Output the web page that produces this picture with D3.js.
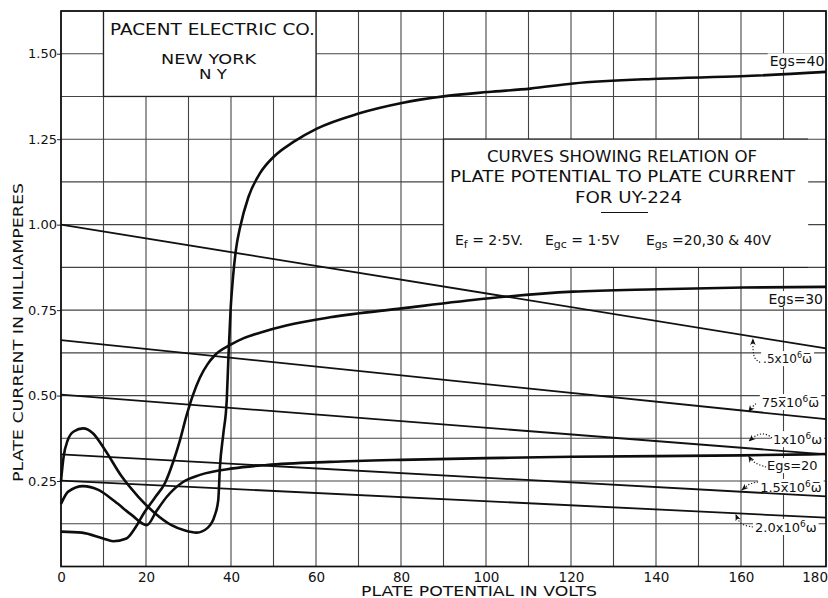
<!DOCTYPE html>
<html>
<head>
<meta charset="utf-8">
<script src="https://cdn.jsdelivr.net/npm/d3@7"></script>
<style>
  body { margin: 0; background: #fff; }
  svg { display: block; }
  text { font-family: "DejaVu Sans", sans-serif; fill: #111; }
</style>
</head>
<body>
<div id="chart"></div>
<script>
// values: [plate volts, plate milliamperes]
const egs20 = [[0,0.183],[1.7,0.219],[5.2,0.235],[8.8,0.224],[12.7,0.19],[16.6,0.151],[20.2,0.121],
  [22.5,0.163],[24.9,0.204],[28.8,0.248],[32.7,0.268],[40.5,0.287],[48.4,0.297],[63.3,0.306],
  [80,0.312],[100,0.317],[120,0.321],[140,0.323],[160,0.325],[180,0.329]];
const egs30 = [[0,0.102],[4.9,0.099],[9.9,0.082],[12.3,0.074],[15.4,0.082],[17.4,0.112],[19.6,0.158],
  [22,0.2],[24.5,0.245],[26.5,0.31],[28,0.37],[29.5,0.44],[31,0.5],[32.7,0.553],[34.5,0.592],
  [36.2,0.618],[39.8,0.648],[43,0.668],[46.8,0.684],[53,0.705],[63.3,0.729],[80.2,0.755],
  [100.2,0.784],[120.5,0.804],[140.5,0.811],[160.5,0.816],[180,0.818]];
const egs40 = [[0,0.25],[0.6,0.32],[1.6,0.37],[3,0.395],[5.2,0.404],[7.5,0.39],[10.4,0.34],
  [14.3,0.263],[18.2,0.204],[22.1,0.156],[26,0.121],[29.2,0.105],[31.9,0.099],[34.5,0.113],
  [36.2,0.15],[37,0.194],[37.4,0.292],[38.2,0.389],[39,0.487],[39.4,0.613],[39.9,0.75],
  [40.5,0.85],[41.2,0.93],[42.1,0.99],[44.1,1.081],[46.8,1.15],[50,1.198],[54.7,1.242],
  [60.2,1.281],[70,1.325],[80.2,1.356],[90.4,1.376],[100.5,1.388],[110.4,1.398],[120.5,1.413],
  [140.5,1.427],[160,1.434],[180,1.447]];

// load lines (megohms): current at 0 V and at 180 V
const loadNames = [".5", "75", "1", "1.5", "2.0"];
const loadAt0 = [1.0, 0.662, 0.503, 0.328, 0.251];
const loadAt180 = [0.638, 0.431, 0.328, 0.205, 0.143];

const xTickLabels = [0, 20, 40, 60, 80, 100, 120, 140, 160, 180];
const yTickLabels = [0.25, 0.5, 0.75, 1.0, 1.25, 1.5];
const gridVolts = [0,10,20,30,40,50,60,70,80,90,100,110,120,130,140,150,160,170,180];
const gridAmps = [0,0.125,0.25,0.375,0.5,0.625,0.75,0.875,1.0,1.125,1.25,1.375,1.5,1.625];

const margin = {top: 11, right: 2, bottom: 31.5, left: 61};
const width = 828 - margin.left - margin.right;
const height = 598 - margin.top - margin.bottom;

const x = d3.scaleLinear().domain([0, 180]).range([0, width]);
const y = d3.scaleLinear().domain([0, 1.625]).range([height, 0]);

const svg = d3.select("#chart").append("svg")
  .attr("width", 828).attr("height", 598);
svg.append("defs").append("marker")
  .attr("id", "head").attr("viewBox", "0 0 10 10")
  .attr("refX", 9).attr("refY", 5)
  .attr("markerWidth", 7).attr("markerHeight", 7)
  .attr("markerUnits", "userSpaceOnUse")
  .attr("orient", "auto")
  .append("path").attr("d", "M0,1 L10,5 L0,9 L3,5 Z").attr("fill", "#111");

const g = svg.append("g").attr("transform", `translate(${margin.left},${margin.top})`);

// grid
const grid = g.append("g").attr("stroke", "#444").attr("stroke-width", 1.1);
grid.selectAll("line.v").data(gridVolts).join("line").attr("class", "v")
  .attr("x1", d => x(d)).attr("x2", d => x(d)).attr("y1", 0).attr("y2", height);
grid.selectAll("line.h").data(gridAmps).join("line").attr("class", "h")
  .attr("x1", 0).attr("x2", width).attr("y1", d => y(d)).attr("y2", d => y(d));

// title boxes sit over the grid
const boxes = g.append("g");
boxes.append("rect")
  .attr("x", x(10)).attr("y", y(1.625))
  .attr("width", x(60) - x(10)).attr("height", y(1.375) - y(1.625))
  .attr("fill", "#fff").attr("stroke", "#222").attr("stroke-width", 1.3);
boxes.append("rect")
  .attr("x", x(90)).attr("y", y(1.25))
  .attr("width", x(175.8) - x(90)).attr("height", y(0.875) - y(1.25))
  .attr("fill", "#fff");
boxes.append("path")
  .attr("d", `M${x(175.8)},${y(1.25)} H${x(90)} V${y(0.875)} H${x(175.8)}`)
  .attr("fill", "none").attr("stroke", "#222").attr("stroke-width", 1.3);

const labelBg = g.append("g");

// axes
const yAxis = d3.axisLeft(y).tickValues(yTickLabels).tickFormat(d3.format(".2f"))
  .tickSize(4).tickPadding(0);
g.append("g").call(yAxis)
  .call(s => s.select(".domain").remove())
  .call(s => s.selectAll("text").style("font-size", "13px").attr("fill", "#111"))
  .call(s => s.selectAll("line").attr("stroke", "#222"));

const xAxis = d3.axisBottom(x).tickValues(xTickLabels).tickSize(0).tickPadding(5.5);
g.append("g").attr("transform", `translate(0,${height})`).call(xAxis)
  .call(s => s.select(".domain").remove())
  .call(s => s.selectAll("text").style("font-size", "13.5px").attr("fill", "#111"))
  .call(s => s.selectAll(".tick").filter(d => d === 180).select("text")
    .attr("text-anchor", "end").attr("x", 1.5));

// frame
g.append("rect").attr("width", width).attr("height", height)
  .attr("fill", "none").attr("stroke", "#111").attr("stroke-width", 1.7);

// load lines
const loadData = loadNames.map((n, i) => ({name: n, pts: [[0, loadAt0[i]], [180, loadAt180[i]]]}));
const straight = d3.line().x(d => x(d[0])).y(d => y(d[1]));
g.append("g").selectAll("path").data(loadData).join("path")
  .attr("d", d => straight(d.pts))
  .attr("fill", "none").attr("stroke", "#111").attr("stroke-width", 1.8);

// characteristic curves
const smooth = d3.line().x(d => x(d[0])).y(d => y(d[1])).curve(d3.curveMonotoneX);
g.append("g").selectAll("path").data([egs20, egs30, egs40]).join("path")
  .attr("d", d => smooth(d))
  .attr("fill", "none").attr("stroke", "#0d0d0d").attr("stroke-width", 2.6)
  .attr("stroke-linejoin", "round");

// box texts
function boxText(str, cx, base, size, len) {
  return g.append("text").attr("x", cx).attr("y", base)
    .attr("text-anchor", "middle").style("font-size", size + "px")
    .attr("textLength", len).attr("lengthAdjust", "spacingAndGlyphs").text(str);
}
boxText("PACENT ELECTRIC CO.", 212.5 - margin.left, 35 - margin.top, 15, 205);
boxText("NEW YORK", 208.5 - margin.left, 63.5 - margin.top, 14, 95);
boxText("N Y", 213 - margin.left, 79 - margin.top, 14, 28);
boxText("CURVES SHOWING RELATION OF", 622 - margin.left, 162 - margin.top, 15, 270);
boxText("PLATE POTENTIAL TO PLATE CURRENT", 622.5 - margin.left, 182 - margin.top, 15, 345);
boxText("FOR UY-224", 628.5 - margin.left, 203 - margin.top, 15, 107);
g.append("line")
  .attr("x1", 601 - margin.left).attr("x2", 648 - margin.left)
  .attr("y1", 212.5 - margin.top).attr("y2", 212.5 - margin.top)
  .attr("stroke", "#111").attr("stroke-width", 1.2);

function subText(parent, px, base, size, parts) {
  const t = parent.append("text").attr("x", px).attr("y", base).style("font-size", size + "px");
  parts.forEach(p => {
    const ts = t.append("tspan").text(p.t);
    if (p.sub) ts.attr("dy", 3).style("font-size", (size - 3) + "px");
    if (p.back) ts.attr("dy", -3);
    if (p.sup) ts.attr("dy", -5).style("font-size", (size - 4) + "px");
    if (p.down) ts.attr("dy", 5);
  });
  return t;
}
subText(g, 455 - margin.left, 245 - margin.top, 14,
  [{t: "E"}, {t: "f", sub: true}, {t: " = 2·5V.", back: true}]);
subText(g, 545 - margin.left, 245 - margin.top, 14,
  [{t: "E"}, {t: "gc", sub: true}, {t: " = 1·5V", back: true}]);
subText(g, 646 - margin.left, 245 - margin.top, 14,
  [{t: "E"}, {t: "gs", sub: true}, {t: " =20,30 & 40V", back: true}]);

// axis titles
g.append("text")
  .attr("transform", `translate(${23 - margin.left},${332.5 - margin.top}) rotate(-90)`)
  .attr("text-anchor", "middle").style("font-size", "14.5px")
  .attr("textLength", 299).attr("lengthAdjust", "spacingAndGlyphs")
  .text("PLATE CURRENT IN MILLIAMPERES");
g.append("text")
  .attr("x", 479 - margin.left).attr("y", 596 - margin.top)
  .attr("text-anchor", "middle").style("font-size", "14.5px")
  .attr("textLength", 236).attr("lengthAdjust", "spacingAndGlyphs")
  .text("PLATE POTENTIAL IN VOLTS");

// curve labels on the right, with dotted leaders
const labels = [
  {v: 179.6, i: 1.463, anchor: "end", size: 14, parts: [{t: "Egs=40"}]},
  {v: 179.3, i: 0.7675, anchor: "end", size: 14, parts: [{t: "Egs=30"}]},
  {v: 165.2, i: 0.595, size: 12, parts: [{t: ".5x10"}, {t: "6", sup: true}, {t: "ω\u0305", down: true}],
    arrow: [[164.5,0.597],[163.1,0.607],[162.8,0.632],[162.8,0.666]]},
  {v: 164.9, i: 0.4664, size: 13, parts: [{t: "75x\u030510"}, {t: "6", sup: true}, {t: "ω\u0305", down: true}],
    arrow: [[163.5,0.476],[162.6,0.467],[161.8,0.453]]},
  {v: 167.5, i: 0.358, size: 13, parts: [{t: "1x10"}, {t: "6", sup: true}, {t: "ω", down: true}],
    arrow: [[167.3,0.376],[165.9,0.389],[163.8,0.388],[161.9,0.367]]},
  {v: 166.1, i: 0.282, size: 13, parts: [{t: "Egs=20"}],
    arrow: [[165.9,0.291],[163.8,0.299],[162.4,0.311],[161.8,0.323]]},
  {v: 164.5, i: 0.218, size: 13, parts: [{t: "1.5x\u030510"}, {t: "6", sup: true}, {t: "ω\u0305", down: true}],
    arrow: [[164,0.247],[162.1,0.244],[160.2,0.224]]},
  {v: 163.3, i: 0.101, size: 13, parts: [{t: "2.0x10"}, {t: "6", sup: true}, {t: "ω", down: true}],
    arrow: [[162.8,0.1155],[160.2,0.121],[159.3,0.136],[158.8,0.152]]}
];

const labelLayer = g.append("g");
const leader = d3.line().x(d => x(d[0])).y(d => y(d[1])).curve(d3.curveBasis);
labels.forEach(l => {
  const t = subText(labelLayer, x(l.v), y(l.i), l.size, l.parts);
  if (l.anchor) t.attr("text-anchor", l.anchor);
  const b = t.node().getBBox();
  labelBg.append("rect")
    .attr("x", b.x - 2).attr("y", b.y).attr("width", b.width + 4).attr("height", b.height)
    .attr("fill", "#fff");
  if (l.arrow) {
    labelLayer.append("path").attr("d", leader(l.arrow))
      .attr("fill", "none").attr("stroke", "#111").attr("stroke-width", 1.1)
      .attr("stroke-dasharray", "1.2,1.8").attr("marker-end", "url(#head)");
  }
});
</script>
</body>
</html>
